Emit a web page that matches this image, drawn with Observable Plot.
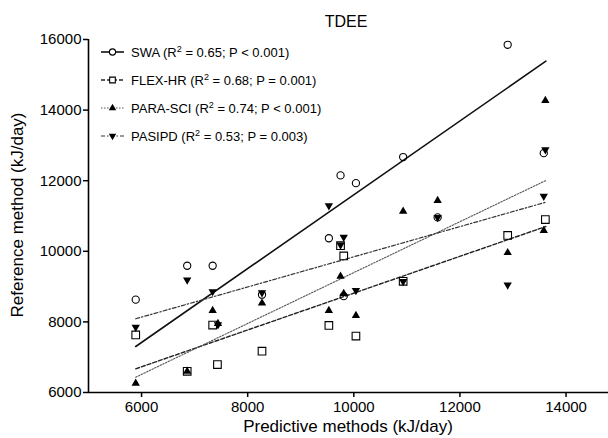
<!DOCTYPE html>
<html>
<head>
<meta charset="utf-8">
<script src="https://cdn.jsdelivr.net/npm/d3@7"></script>
<script src="https://cdn.jsdelivr.net/npm/@observablehq/plot@0.6"></script>
<style>
  body { margin: 0; background: #fff; }
  #chart { width: 608px; height: 438px; }
  svg { font-family: "Liberation Sans", Arial, sans-serif; }
</style>
</head>
<body>
<div id="chart"></div>
<script>
// ---- data ----
const seriesNames = ["SWA", "FLEX-HR", "PARA-SCI", "PASIPD"];
const r2Values = ["0.65", "0.68", "0.74", "0.53"];
const pValues = ["P < 0.001", "P = 0.001", "P < 0.001", "P = 0.003"];

const swaX = [5890, 6860, 7340, 8270, 9530, 9750, 9810, 10040, 10930, 11580, 12900, 13580];
const swaY = [8630, 9590, 9590, 8770, 10370, 12150, 8730, 11930, 12670, 10960, 15850, 12780];

const flexX = [5890, 6860, 7340, 7430, 8270, 9530, 9750, 9810, 10040, 10930, 12900, 13610];
const flexY = [7630, 6600, 7910, 6790, 7170, 7900, 10160, 9870, 7600, 9150, 10450, 10900];

const paraX = [5890, 6860, 7340, 7440, 8270, 9530, 9750, 9810, 10040, 10930, 11580, 12900, 13610, 13580];
const paraY = [6260, 6600, 8320, 7950, 8530, 8320, 9290, 8800, 8180, 11130, 11440, 9960, 14270, 10590];

const pasipdX = [5890, 6860, 7340, 7440, 8270, 9530, 9750, 9810, 10040, 10930, 11580, 12900, 13580, 13610];
const pasipdY = [7850, 9190, 8860, 7920, 8830, 11290, 10180, 10400, 8890, 9150, 10960, 9050, 11560, 12880];

// regression line ends (x extent and y at each end), per series
const fitX = [5890, 13620];
const fitStartY = [7303, 6671, 6434, 8088];
const fitEndY = [15386, 10703, 12006, 11391];

const xTicks = [6000, 8000, 10000, 12000, 14000];
const yTicks = [6000, 8000, 10000, 12000, 14000, 16000];

// ---- build tables ----
const xs = [swaX, flexX, paraX, pasipdX];
const ys = [swaY, flexY, paraY, pasipdY];
const pts = seriesNames.map((s, i) => xs[i].map((x, j) => ({series: s, x, y: ys[i][j]})));
const fits = seriesNames.map((s, i) => [
  {series: s, x: fitX[0], y: fitStartY[i]},
  {series: s, x: fitX[1], y: fitEndY[i]}
]);

const lineStyles = [
  {stroke: "#111", strokeWidth: 1.6, strokeDasharray: null},
  {stroke: "#222", strokeWidth: 1.4, strokeDasharray: "4,2"},
  {stroke: "#555", strokeWidth: 1.1, strokeDasharray: "1.5,1.5"},
  {stroke: "#333", strokeWidth: 1.2, strokeDasharray: "4,2,1.5,2"}
];

const plot = Plot.plot({
  width: 608,
  height: 438,
  marginLeft: 88,
  marginRight: 0,
  marginTop: 39,
  marginBottom: 46,
  style: {background: "#fff", color: "#000", fontFamily: "Liberation Sans, Arial, sans-serif"},
  x: {domain: [5000, 14800], label: null},
  y: {domain: [6000, 16000], label: null},
  marks: [
    Plot.axisX({ticks: xTicks, tickFormat: d3.format("d"), tickSize: 5, tickPadding: 4, fontSize: 15, stroke: "#000", strokeWidth: 1.5, label: null}),
    Plot.axisY({ticks: yTicks, tickFormat: d3.format("d"), tickSize: 5, tickPadding: 2, fontSize: 15, stroke: "#000", strokeWidth: 1.5, label: null}),
    Plot.ruleY([6000], {stroke: "#000", strokeWidth: 1.6}),
    Plot.ruleX([5000], {stroke: "#000", strokeWidth: 1.6}),
    ...fits.map((f, i) => Plot.line(f, {x: "x", y: "y", ...lineStyles[i]})),
    Plot.dot(pts[0], {x: "x", y: "y", symbol: "circle", r: 3.6, fill: "none", stroke: "#000", strokeWidth: 1.1}),
    Plot.dot(pts[1], {x: "x", y: "y", symbol: "square", r: 4.3, fill: "none", stroke: "#000", strokeWidth: 1.1}),
    Plot.dot(pts[2], {x: "x", y: "y", symbol: "triangle", r: 3.1, fill: "#000", stroke: "none"}),
    Plot.dot(pts[3], {x: "x", y: "y", symbol: "triangle", rotate: 180, r: 3.1, fill: "#000", stroke: "none"})
  ]
});

document.getElementById("chart").appendChild(plot);

// ---- title, axis titles and legend ----
const svg = d3.select(plot);
svg.append("text").attr("x", 346).attr("y", 27).attr("text-anchor", "middle")
  .attr("font-size", 16).attr("fill", "#000").text("TDEE");
svg.append("text").attr("x", 348).attr("y", 432).attr("text-anchor", "middle")
  .attr("font-size", 17).attr("fill", "#000").text("Predictive methods (kJ/day)");
svg.append("text").attr("transform", "translate(23,215) rotate(-90)").attr("text-anchor", "middle")
  .attr("font-size", 17).attr("fill", "#000").text("Reference method (kJ/day)");

const legendY = [52, 80, 108, 136];
const symbols = [d3.symbolCircle, d3.symbolSquare, d3.symbolTriangle, d3.symbolTriangle];
const symSizes = [Math.PI * 3.6 * 3.6 * 0.75, Math.PI * 4.3 * 4.3 * 0.55, Math.PI * 3.1 * 3.1 * 0.8, Math.PI * 3.1 * 3.1 * 0.8];
const lg = svg.append("g").attr("text-anchor", "start");
seriesNames.forEach((s, i) => {
  const y = legendY[i];
  const st = lineStyles[i];
  lg.append("line").attr("x1", 101).attr("x2", 124).attr("y1", y).attr("y2", y)
    .attr("stroke", st.stroke).attr("stroke-width", st.strokeWidth)
    .attr("stroke-dasharray", st.strokeDasharray);
  const p = lg.append("path").attr("d", d3.symbol(symbols[i], symSizes[i])())
    .attr("transform", `translate(112.5,${y})` + (i === 3 ? " rotate(180)" : ""));
  if (i < 2) p.attr("fill", "#fff").attr("stroke", "#000").attr("stroke-width", 1.1);
  else p.attr("fill", "#000");
  const t = lg.append("text").attr("x", 131).attr("y", y + 4.5).attr("font-size", 13)
    .attr("fill", "#000").attr("text-anchor", "start");
  t.append("tspan").text(`${s} (R`);
  t.append("tspan").attr("dy", -5).attr("font-size", 9).text("2");
  t.append("tspan").attr("dy", 5).text(` = ${r2Values[i]}; ${pValues[i]})`);
});
</script>
</body>
</html>
